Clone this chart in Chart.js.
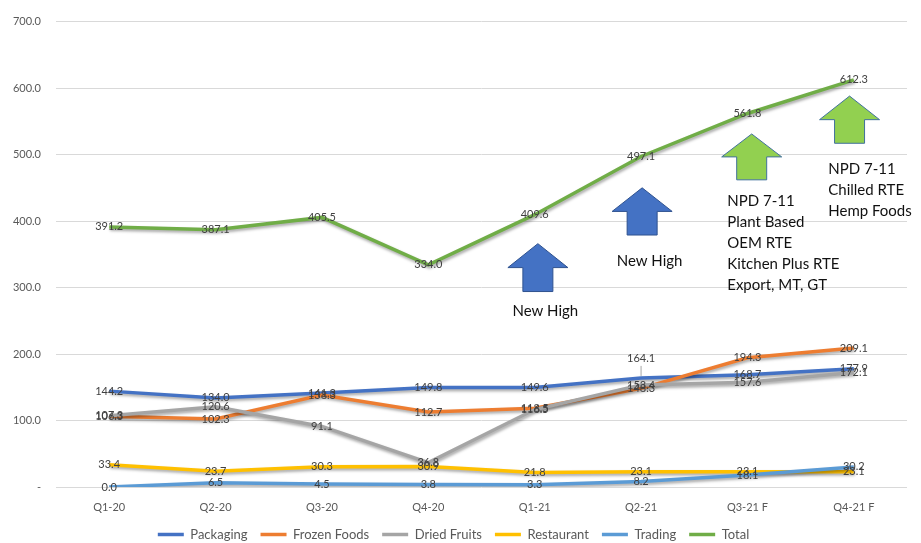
<!DOCTYPE html>
<html>
<head>
<meta charset="utf-8">
<script src="https://cdn.jsdelivr.net/npm/chart.js@4"></script>
<style>
  html, body { margin: 0; padding: 0; background: #fff; }
  #wrap { width: 921px; height: 543px; }
</style>
</head>
<body>
<div id="wrap"><canvas id="chart" width="921" height="543"></canvas></div>
<script>
// ── Data ──────────────────────────────────────────────────────────────────────
const quarters    = ["Q1-20", "Q2-20", "Q3-20", "Q4-20", "Q1-21", "Q2-21", "Q3-21 F", "Q4-21 F"];
const packaging   = [144.2, 134.0, 141.3, 149.8, 149.6, 164.1, 168.7, 177.9];
const frozenFoods = [106.3, 102.3, 138.3, 112.7, 118.5, 148.3, 194.3, 209.1];
const driedFruits = [107.3, 120.6, 91.1, 36.8, 116.5, 153.4, 157.6, 172.1];
const restaurant  = [33.4, 23.7, 30.3, 30.9, 21.8, 23.1, 23.1, 23.1];
const trading     = [0.0, 6.5, 4.5, 3.8, 3.3, 8.2, 18.1, 30.2];
const total       = [391.2, 387.1, 405.5, 334.0, 409.6, 497.1, 561.8, 612.3];
const yTicks      = [0, 100, 200, 300, 400, 500, 600, 700];

// ── Annotations (arrows + notes, in axis units) ───────────────────────────────
const arrows = [
  { x: 4.03, top: 366, bottom: 294, fill: "#4472C4", stroke: "#2F528F" },
  { x: 5.01, top: 450, bottom: 379, fill: "#4472C4", stroke: "#2F528F" },
  { x: 6.04, top: 531, bottom: 462, fill: "#92D050", stroke: "#41719C" },
  { x: 6.96, top: 588, bottom: 517, fill: "#92D050", stroke: "#41719C" }
];
const notes = [
  { x: 4.10, y: 264, align: "center", lines: ["New High"] },
  { x: 5.08, y: 340, align: "center", lines: ["New High"] },
  { x: 5.81, y: 430, align: "left",
    lines: ["NPD 7-11", "Plant Based", "OEM RTE", "Kitchen Plus RTE", "Export, MT, GT"] },
  { x: 6.76, y: 478, align: "left", lines: ["NPD 7-11", "Chilled RTE", "Hemp Foods"] }
];
// labels that Excel moved off their point (dataset, point, pixel shift)
const labelNudges = [{ ds: 0, i: 5, dy: -19 }];

const FONT = "Lato, 'Open Sans', sans-serif";

function series(label, data, color, order) {
  return {
    label, data, order,
    borderColor: color,
    backgroundColor: color,
    borderWidth: 3.5,
    pointRadius: 0,
    tension: 0,
    fill: false
  };
}

// ── Plugins ───────────────────────────────────────────────────────────────────
const shadowPlugin = {
  id: "shadow",
  beforeDatasetDraw(chart) {
    const ctx = chart.ctx;
    ctx.save();
    ctx.shadowColor = "rgba(0,0,0,0.35)";
    ctx.shadowBlur = 3;
    ctx.shadowOffsetX = 1;
    ctx.shadowOffsetY = 2;
  },
  afterDatasetDraw(chart) {
    chart.ctx.restore();
  }
};

const labelPlugin = {
  id: "valueLabels",
  afterDatasetsDraw(chart) {
    const ctx = chart.ctx;
    ctx.save();
    ctx.font = "11px " + FONT;
    ctx.fillStyle = "#404040";
    ctx.textAlign = "center";
    ctx.textBaseline = "middle";
    chart.data.datasets.forEach((ds, i) => {
      chart.getDatasetMeta(i).data.forEach((pt, j) => {
        const nudge = labelNudges.find(n => n.ds === i && n.i === j);
        let y = pt.y;
        if (nudge) {
          y += nudge.dy;
          ctx.strokeStyle = "#A6A6A6";
          ctx.lineWidth = 1;
          ctx.beginPath();
          ctx.moveTo(pt.x, y + 7);
          ctx.lineTo(pt.x, pt.y - 2);
          ctx.stroke();
        }
        ctx.fillText(ds.data[j].toFixed(1), pt.x, y);
      });
    });
    ctx.restore();
  }
};

const annotationPlugin = {
  id: "arrowNotes",
  afterDraw(chart) {
    const ctx = chart.ctx;
    const xs = chart.scales.x, ys = chart.scales.y;
    ctx.save();
    arrows.forEach(a => {
      const cx = xs.getPixelForValue(a.x);
      const top = ys.getPixelForValue(a.top);
      const bot = ys.getPixelForValue(a.bottom);
      const headH = (bot - top) * 0.5;
      const hw = 30, sw = 15;
      ctx.beginPath();
      ctx.moveTo(cx, top);
      ctx.lineTo(cx + hw, top + headH);
      ctx.lineTo(cx + sw, top + headH);
      ctx.lineTo(cx + sw, bot);
      ctx.lineTo(cx - sw, bot);
      ctx.lineTo(cx - sw, top + headH);
      ctx.lineTo(cx - hw, top + headH);
      ctx.closePath();
      ctx.fillStyle = a.fill;
      ctx.fill();
      ctx.lineWidth = 1;
      ctx.strokeStyle = a.stroke;
      ctx.stroke();
    });
    ctx.font = "15px " + FONT;
    ctx.fillStyle = "#111";
    ctx.textBaseline = "middle";
    notes.forEach(n => {
      const x = xs.getPixelForValue(n.x);
      const y = ys.getPixelForValue(n.y);
      ctx.textAlign = n.align;
      n.lines.forEach((line, k) => ctx.fillText(line, x, y + k * 21));
    });
    ctx.restore();
  }
};

// ── Chart ─────────────────────────────────────────────────────────────────────
new Chart(document.getElementById("chart"), {
  type: "line",
  data: {
    labels: quarters,
    datasets: [
      series("Packaging",    packaging,   "#4472C4", 6),
      series("Frozen Foods", frozenFoods, "#ED7D31", 5),
      series("Dried Fruits", driedFruits, "#A5A5A5", 4),
      series("Restaurant",   restaurant,  "#FFC000", 3),
      series("Trading",      trading,     "#5B9BD5", 2),
      series("Total",        total,       "#70AD47", 1)
    ]
  },
  options: {
    responsive: false,
    animation: false,
    layout: { padding: { top: 20, right: 14, left: 0, bottom: 0 } },
    plugins: {
      legend: {
        position: "bottom",
        maxHeight: 28,
        labels: {
          usePointStyle: true,
          pointStyle: "line",
          pointStyleWidth: 26,
          color: "#595959",
          font: { size: 13, family: FONT },
          padding: 13,
          sort: (a, b) => a.datasetIndex - b.datasetIndex
        }
      },
      tooltip: { enabled: false }
    },
    scales: {
      x: {
        offset: true,
        grid: { display: false },
        border: { display: false },
        ticks: { color: "#595959", font: { size: 11, family: FONT }, padding: 6, maxRotation: 0 },
        afterFit: s => { s.height = 28; }
      },
      y: {
        min: 0,
        max: 700,
        afterBuildTicks: s => { s.ticks = yTicks.map(v => ({ value: v })); },
        grid: { color: "#D9D9D9", lineWidth: 1, drawTicks: false },
        border: { display: false },
        ticks: {
          color: "#595959",
          font: { size: 11, family: FONT },
          padding: 15,
          callback: v => v === 0 ? "-" : v.toFixed(1)
        },
        afterFit: s => { s.width = 56; }
      }
    }
  },
  plugins: [shadowPlugin, labelPlugin, annotationPlugin]
});
</script>
</body>
</html>
